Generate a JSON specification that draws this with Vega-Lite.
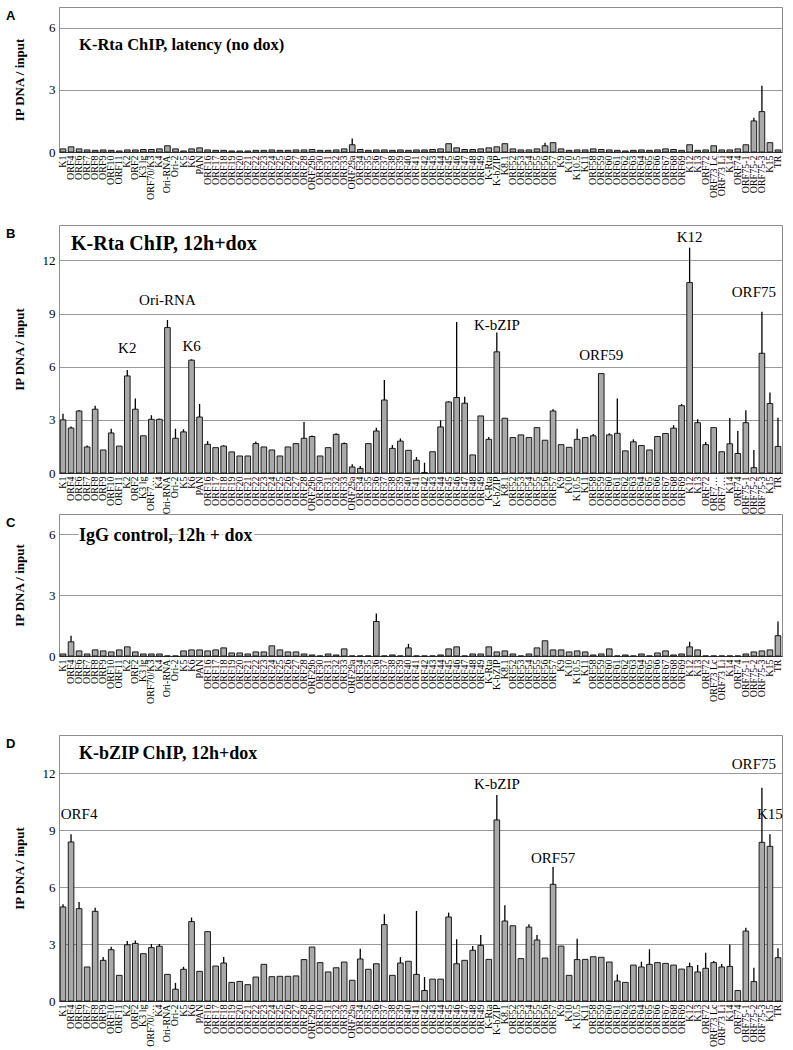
{
"$schema": "https://vega.github.io/schema/vega-lite/v6.json",
"padding": {"top": 6, "left": 5, "right": 0, "bottom": 0},
"bounds": "flush",
"spacing": 0,
"config": {
  "view": {"stroke": "#8c8c8c", "strokeWidth": 1},
  "font": "Liberation Serif",
  "axisX": {"title": null, "labelAngle": -90, "labelFont": "Liberation Serif", "labelFontSize": 10, "labelColor": "#000", "labelPadding": 3, "ticks": false, "grid": false, "domainColor": "#333", "domainWidth": 1, "labelOverlap": false, "labelBound": false},
  "axisY": {"titleFont": "Liberation Serif", "titleFontSize": 13, "titleFontWeight": "bold", "titleColor": "#000", "labelFont": "Liberation Serif", "labelFontSize": 13, "labelColor": "#000", "ticks": false, "domain": false, "gridColor": "#9a9a9a", "gridWidth": 1, "labelPadding": 4, "minExtent": 22, "maxExtent": 22, "titlePadding": 11},
  "title": {"anchor": "start", "frame": "group", "orient": "top", "baseline": "top", "offset": 0, "dx": -53, "dy": 20, "font": "Liberation Sans", "fontSize": 13, "fontWeight": "bold", "color": "#000"}
},
"datasets": {
"A": [{"g":"K1","v":0.15},{"g":"ORF4","v":0.25},{"g":"ORF6","v":0.15},{"g":"ORF7","v":0.1},{"g":"ORF8","v":0.08},{"g":"ORF9","v":0.1},{"g":"ORF10","v":0.08},{"g":"ORF11","v":0.05},{"g":"K2","v":0.1},{"g":"ORF2","v":0.1},{"g":"K3 lg","v":0.12},{"g":"ORF70/K3","v":0.12},{"g":"K4","v":0.15},{"g":"Ori-RNA","v":0.3},{"g":"Ori-2","v":0.15},{"g":"K5","v":0.05},{"g":"K6","v":0.15},{"g":"PAN","v":0.2},{"g":"ORF16","v":0.1},{"g":"ORF17","v":0.08},{"g":"ORF18","v":0.08},{"g":"ORF19","v":0.05},{"g":"ORF20","v":0.05},{"g":"ORF21","v":0.05},{"g":"ORF22","v":0.08},{"g":"ORF23","v":0.08},{"g":"ORF24","v":0.1},{"g":"ORF25","v":0.08},{"g":"ORF26","v":0.08},{"g":"ORF27","v":0.1},{"g":"ORF28","v":0.1},{"g":"ORF29b","v":0.12},{"g":"ORF30","v":0.08},{"g":"ORF31","v":0.08},{"g":"ORF32","v":0.1},{"g":"ORF33","v":0.15},{"g":"ORF29a","v":0.35,"hi":0.65},{"g":"ORF34","v":0.12},{"g":"ORF35","v":0.08},{"g":"ORF36","v":0.1},{"g":"ORF37","v":0.1},{"g":"ORF38","v":0.08},{"g":"ORF39","v":0.1},{"g":"ORF40","v":0.08},{"g":"ORF41","v":0.1},{"g":"ORF42","v":0.1},{"g":"ORF43","v":0.12},{"g":"ORF44","v":0.15},{"g":"ORF45","v":0.4},{"g":"ORF46","v":0.2},{"g":"ORF47","v":0.12},{"g":"ORF48","v":0.12},{"g":"ORF49","v":0.15},{"g":"K-Rta","v":0.2},{"g":"K-bZIP","v":0.25},{"g":"K8.1","v":0.4},{"g":"ORF52","v":0.15},{"g":"ORF53","v":0.1},{"g":"ORF54","v":0.1},{"g":"ORF55","v":0.15},{"g":"ORF56","v":0.3,"hi":0.45},{"g":"ORF57","v":0.45},{"g":"K9","v":0.15},{"g":"K10","v":0.08},{"g":"K10.5","v":0.1},{"g":"K11","v":0.1},{"g":"ORF58","v":0.15},{"g":"ORF59","v":0.12},{"g":"ORF60","v":0.1},{"g":"ORF61","v":0.08},{"g":"ORF62","v":0.05},{"g":"ORF63","v":0.08},{"g":"ORF64","v":0.1},{"g":"ORF65","v":0.08},{"g":"ORF66","v":0.1},{"g":"ORF67","v":0.15},{"g":"ORF68","v":0.12},{"g":"ORF69","v":0.08},{"g":"K12","v":0.35},{"g":"K13","v":0.08},{"g":"ORF72","v":0.1},{"g":"ORF73 Lc","v":0.3},{"g":"ORF73 Li","v":0.1},{"g":"K14","v":0.1},{"g":"ORF74","v":0.15},{"g":"ORF75-1","v":0.35},{"g":"ORF75-2","v":1.5,"hi":1.65},{"g":"ORF75-3","v":1.95,"hi":3.2},{"g":"K15","v":0.45},{"g":"TR","v":0.1}],
"B": [{"g":"K1","v":3.0,"hi":3.35},{"g":"ORF4","v":2.54,"hi":2.62},{"g":"ORF6","v":3.5,"hi":3.55},{"g":"ORF7","v":1.47,"hi":1.55},{"g":"ORF8","v":3.6,"hi":3.8},{"g":"ORF9","v":1.3},{"g":"ORF10","v":2.26,"hi":2.5},{"g":"ORF11","v":1.52},{"g":"K2","v":5.48,"hi":5.82},{"g":"ORF2","v":3.6,"hi":4.2},{"g":"K3 lg","v":2.1},{"g":"ORF70/K3","v":3.03,"hi":3.26},{"g":"K4","v":3.03,"hi":3.07},{"g":"Ori-RNA","v":8.21,"hi":8.64},{"g":"Ori-2","v":1.96,"hi":2.5},{"g":"K5","v":2.32,"hi":2.47},{"g":"K6","v":6.37,"hi":6.42},{"g":"PAN","v":3.16,"hi":3.9},{"g":"ORF16","v":1.62,"hi":1.8},{"g":"ORF17","v":1.43},{"g":"ORF18","v":1.52,"hi":1.56},{"g":"ORF19","v":1.19},{"g":"ORF20","v":0.96},{"g":"ORF21","v":0.96},{"g":"ORF22","v":1.66,"hi":1.78},{"g":"ORF23","v":1.47},{"g":"ORF24","v":1.3},{"g":"ORF25","v":0.96},{"g":"ORF26","v":1.47},{"g":"ORF27","v":1.66},{"g":"ORF28","v":1.96,"hi":2.88},{"g":"ORF29b","v":2.06,"hi":2.12},{"g":"ORF30","v":0.96},{"g":"ORF31","v":1.43},{"g":"ORF32","v":2.18,"hi":2.25},{"g":"ORF33","v":1.66,"hi":1.72},{"g":"ORF29a","v":0.34,"hi":0.49},{"g":"ORF34","v":0.26,"hi":0.4},{"g":"ORF35","v":1.66},{"g":"ORF36","v":2.37,"hi":2.55},{"g":"ORF37","v":4.12,"hi":5.25},{"g":"ORF38","v":1.39,"hi":1.58},{"g":"ORF39","v":1.8,"hi":1.95},{"g":"ORF40","v":1.28},{"g":"ORF41","v":0.72,"hi":0.9},{"g":"ORF42","v":0.03,"hi":0.58},{"g":"ORF43","v":1.2},{"g":"ORF44","v":2.6,"hi":2.97},{"g":"ORF45","v":4.01,"hi":4.05},{"g":"ORF46","v":4.26,"hi":8.53},{"g":"ORF47","v":3.94,"hi":4.3},{"g":"ORF48","v":1.02},{"g":"ORF49","v":3.22},{"g":"K-Rta","v":1.9,"hi":2.03},{"g":"K-bZIP","v":6.84,"hi":7.93},{"g":"K8.1","v":3.09},{"g":"ORF52","v":2.0},{"g":"ORF53","v":2.15},{"g":"ORF54","v":2.0},{"g":"ORF55","v":2.56},{"g":"ORF56","v":1.85},{"g":"ORF57","v":3.5,"hi":3.6},{"g":"K9","v":1.6},{"g":"K10","v":1.45},{"g":"K10.5","v":1.9,"hi":2.5},{"g":"K11","v":2.0},{"g":"ORF58","v":2.1,"hi":2.2},{"g":"ORF59","v":5.61},{"g":"ORF60","v":2.15,"hi":2.25},{"g":"ORF61","v":2.24,"hi":4.21},{"g":"ORF62","v":1.25},{"g":"ORF63","v":1.76,"hi":1.9},{"g":"ORF64","v":1.55},{"g":"ORF65","v":1.3},{"g":"ORF66","v":2.06},{"g":"ORF67","v":2.23},{"g":"ORF68","v":2.53,"hi":2.7},{"g":"ORF69","v":3.8,"hi":3.9},{"g":"K12","v":10.75,"hi":12.72},{"g":"K13","v":2.84,"hi":3.03},{"g":"ORF72","v":1.6,"hi":1.75},{"g":"ORF73 Lc","v":2.56},{"g":"ORF73 Li","v":1.2},{"g":"K14","v":1.65,"hi":3.1},{"g":"ORF74","v":1.1,"hi":2.37},{"g":"ORF75-1","v":2.84,"hi":3.54},{"g":"ORF75-2","v":0.3,"hi":1.3},{"g":"ORF75-3","v":6.76,"hi":9.1},{"g":"K15","v":3.92,"hi":4.54},{"g":"TR","v":1.5,"hi":3.12}],
"C": [{"g":"K1","v":0.1},{"g":"ORF4","v":0.7,"hi":1.0},{"g":"ORF6","v":0.25},{"g":"ORF7","v":0.1},{"g":"ORF8","v":0.3},{"g":"ORF9","v":0.25},{"g":"ORF10","v":0.2},{"g":"ORF11","v":0.3},{"g":"K2","v":0.45},{"g":"ORF2","v":0.2},{"g":"K3 lg","v":0.1},{"g":"ORF70/K3","v":0.1},{"g":"K4","v":0.1},{"g":"Ori-RNA","v":0},{"g":"Ori-2","v":0},{"g":"K5","v":0.25},{"g":"K6","v":0.3},{"g":"PAN","v":0.3},{"g":"ORF16","v":0.25},{"g":"ORF17","v":0.3},{"g":"ORF18","v":0.4},{"g":"ORF19","v":0.15},{"g":"ORF20","v":0.15},{"g":"ORF21","v":0.1},{"g":"ORF22","v":0.2},{"g":"ORF23","v":0.2},{"g":"ORF24","v":0.5},{"g":"ORF25","v":0.3},{"g":"ORF26","v":0.2},{"g":"ORF27","v":0.2},{"g":"ORF28","v":0.1},{"g":"ORF29b","v":0.05},{"g":"ORF30","v":0},{"g":"ORF31","v":0.1},{"g":"ORF32","v":0.05},{"g":"ORF33","v":0.35},{"g":"ORF29a","v":0},{"g":"ORF34","v":0},{"g":"ORF35","v":0},{"g":"ORF36","v":1.7,"hi":2.1},{"g":"ORF37","v":0},{"g":"ORF38","v":0.05},{"g":"ORF39","v":0},{"g":"ORF40","v":0.4,"hi":0.6},{"g":"ORF41","v":0},{"g":"ORF42","v":0},{"g":"ORF43","v":0},{"g":"ORF44","v":0.05},{"g":"ORF45","v":0.35},{"g":"ORF46","v":0.45},{"g":"ORF47","v":0},{"g":"ORF48","v":0.1},{"g":"ORF49","v":0.1},{"g":"K-Rta","v":0.45},{"g":"K-bZIP","v":0.2},{"g":"K8.1","v":0.25},{"g":"ORF52","v":0.1},{"g":"ORF53","v":0},{"g":"ORF54","v":0.1},{"g":"ORF55","v":0.4},{"g":"ORF56","v":0.75},{"g":"ORF57","v":0.3},{"g":"K9","v":0.3},{"g":"K10","v":0.2},{"g":"K10.5","v":0.25},{"g":"K11","v":0.2},{"g":"ORF58","v":0.05},{"g":"ORF59","v":0.1},{"g":"ORF60","v":0.35},{"g":"ORF61","v":0},{"g":"ORF62","v":0.05},{"g":"ORF63","v":0},{"g":"ORF64","v":0.1},{"g":"ORF65","v":0},{"g":"ORF66","v":0.15},{"g":"ORF67","v":0.25},{"g":"ORF68","v":0.05},{"g":"ORF69","v":0.1},{"g":"K12","v":0.45,"hi":0.7},{"g":"K13","v":0.3},{"g":"ORF72","v":0},{"g":"ORF73 Lc","v":0},{"g":"ORF73 Li","v":0},{"g":"K14","v":0},{"g":"ORF74","v":0},{"g":"ORF75-1","v":0.1},{"g":"ORF75-2","v":0.2},{"g":"ORF75-3","v":0.25},{"g":"K15","v":0.3},{"g":"TR","v":1.0,"hi":1.7}],
"D": [{"g":"K1","v":4.95,"hi":5.09},{"g":"ORF4","v":8.37,"hi":8.77},{"g":"ORF6","v":4.86,"hi":5.21},{"g":"ORF7","v":1.79},{"g":"ORF8","v":4.72,"hi":4.91},{"g":"ORF9","v":2.14,"hi":2.31},{"g":"ORF10","v":2.7,"hi":2.86},{"g":"ORF11","v":1.35},{"g":"K2","v":2.96,"hi":3.16},{"g":"ORF2","v":3.03,"hi":3.19},{"g":"K3 lg","v":2.49},{"g":"ORF70/K3","v":2.81,"hi":3.0},{"g":"K4","v":2.88,"hi":3.0},{"g":"Ori-RNA","v":1.4},{"g":"Ori-2","v":0.62,"hi":0.95},{"g":"K5","v":1.67,"hi":1.8},{"g":"K6","v":4.18,"hi":4.39},{"g":"PAN","v":1.56},{"g":"ORF16","v":3.65},{"g":"ORF17","v":1.84},{"g":"ORF18","v":2.0,"hi":2.31},{"g":"ORF19","v":0.98},{"g":"ORF20","v":1.03},{"g":"ORF21","v":0.86},{"g":"ORF22","v":1.26},{"g":"ORF23","v":1.93},{"g":"ORF24","v":1.28},{"g":"ORF25","v":1.3},{"g":"ORF26","v":1.3},{"g":"ORF27","v":1.32},{"g":"ORF28","v":2.18},{"g":"ORF29b","v":2.84},{"g":"ORF30","v":2.02},{"g":"ORF31","v":1.53},{"g":"ORF32","v":1.75},{"g":"ORF33","v":2.05},{"g":"ORF29a","v":1.09},{"g":"ORF34","v":2.21,"hi":2.75},{"g":"ORF35","v":1.67},{"g":"ORF36","v":1.96},{"g":"ORF37","v":4.02,"hi":4.56},{"g":"ORF38","v":1.35},{"g":"ORF39","v":2.0,"hi":2.31},{"g":"ORF40","v":2.09},{"g":"ORF41","v":1.4,"hi":4.74},{"g":"ORF42","v":0.55,"hi":1.26},{"g":"ORF43","v":1.15},{"g":"ORF44","v":1.15},{"g":"ORF45","v":4.42,"hi":4.65},{"g":"ORF46","v":1.96,"hi":3.25},{"g":"ORF47","v":2.14},{"g":"ORF48","v":2.67,"hi":2.89},{"g":"ORF49","v":2.93,"hi":3.47},{"g":"K-Rta","v":2.19},{"g":"K-bZIP","v":9.53,"hi":10.84},{"g":"K8.1","v":4.21,"hi":5.04},{"g":"ORF52","v":3.96},{"g":"ORF53","v":2.23},{"g":"ORF54","v":3.89,"hi":4.04},{"g":"ORF55","v":3.21,"hi":3.47},{"g":"ORF56","v":2.26},{"g":"ORF57","v":6.14,"hi":7.05},{"g":"K9","v":2.89},{"g":"K10","v":1.35},{"g":"K10.5","v":2.18,"hi":3.28},{"g":"K11","v":2.19},{"g":"ORF58","v":2.33},{"g":"ORF59","v":2.3},{"g":"ORF60","v":2.05},{"g":"ORF61","v":1.05,"hi":1.4},{"g":"ORF62","v":0.98},{"g":"ORF63","v":1.89},{"g":"ORF64","v":1.79,"hi":2.07},{"g":"ORF65","v":1.93,"hi":2.72},{"g":"ORF66","v":2.02},{"g":"ORF67","v":1.98},{"g":"ORF68","v":1.89},{"g":"ORF69","v":1.68},{"g":"K12","v":1.81,"hi":2.02},{"g":"K13","v":1.53,"hi":1.9},{"g":"ORF72","v":1.72,"hi":2.54},{"g":"ORF73 Lc","v":2.02,"hi":2.1},{"g":"ORF73 Li","v":1.79,"hi":1.95},{"g":"K14","v":1.82,"hi":2.98},{"g":"ORF74","v":0.55},{"g":"ORF75-1","v":3.68,"hi":3.86},{"g":"ORF75-2","v":1.02,"hi":1.75},{"g":"ORF75-3","v":8.35,"hi":11.23},{"g":"K15","v":8.14,"hi":8.77},{"g":"TR","v":2.28,"hi":2.77}],
"annB": [{"g":"K2","y":7.08,"t":"K2"},{"g":"Ori-RNA","y":9.77,"t":"Ori-RNA"},{"g":"K6","y":7.17,"t":"K6"},{"g":"K-bZIP","y":8.36,"t":"K-bZIP"},{"g":"ORF59","y":6.65,"t":"ORF59"},{"g":"K12","y":13.3,"t":"K12"},{"g":"ORF75-2","y":10.19,"t":"ORF75"}],
"annD": [{"g":"ORF6","y":9.84,"t":"ORF4"},{"g":"K-bZIP","y":11.4,"t":"K-bZIP"},{"g":"ORF57","y":7.54,"t":"ORF57"},{"g":"ORF75-2","y":12.47,"t":"ORF75"},{"g":"K15","y":9.84,"t":"K15"}]
},
"vconcat": [
{
  "width": 723, "height": 145,
  "title": {"text": "A"},
  "data": {"name": "A"},
  "encoding": {"x": {"field": "g", "type": "nominal", "sort": null, "scale": {"paddingInner": 0.3, "paddingOuter": 0.15}}},
  "layer": [
    {"mark": {"type": "bar", "fill": "#a9a9a9", "stroke": "#1a1a1a", "strokeWidth": 1},
     "encoding": {"y": {"field": "v", "type": "quantitative", "scale": {"domain": [0, 7], "nice": false}, "axis": {"title": "IP DNA / input", "values": [0, 3, 6]}}}},
    {"transform": [{"filter": "isValid(datum.hi)"}], "mark": {"type": "rule", "color": "#000", "strokeWidth": 1.3},
     "encoding": {"y": {"field": "v", "type": "quantitative"}, "y2": {"field": "hi"}}},
    {"data": {"values": [{"t": "K-Rta ChIP, latency (no dox)"}]}, "mark": {"type": "text", "align": "left", "baseline": "middle", "font": "Liberation Serif", "fontWeight": "bold", "fontSize": 16.5, "color": "#000"},
     "encoding": {"x": {"datum": "ORF6"}, "y": {"datum": 5.17}, "text": {"field": "t"}}}
  ]
},
{"width": 723, "height": 73, "view": {"stroke": null}, "data": {"values": [{}]}, "mark": {"type": "point", "opacity": 0}},
{
  "width": 723, "height": 248,
  "title": {"text": "B"},
  "data": {"name": "B"},
  "encoding": {"x": {"field": "g", "type": "nominal", "sort": null, "scale": {"paddingInner": 0.3, "paddingOuter": 0.15}, "axis": {"labelLimit": 38}}},
  "layer": [
    {"mark": {"type": "bar", "fill": "#a9a9a9", "stroke": "#1a1a1a", "strokeWidth": 1},
     "encoding": {"y": {"field": "v", "type": "quantitative", "scale": {"domain": [0, 14], "nice": false}, "axis": {"title": "IP DNA / input", "values": [0, 3, 6, 9, 12]}}}},
    {"transform": [{"filter": "isValid(datum.hi)"}], "mark": {"type": "rule", "color": "#000", "strokeWidth": 1.3},
     "encoding": {"y": {"field": "v", "type": "quantitative"}, "y2": {"field": "hi"}}},
    {"data": {"name": "annB"}, "mark": {"type": "text", "align": "center", "baseline": "middle", "font": "Liberation Serif", "fontSize": 15, "color": "#000"},
     "encoding": {"y": {"field": "y", "type": "quantitative"}, "text": {"field": "t"}}},
    {"data": {"values": [{"t": "K-Rta ChIP, 12h+dox"}]}, "mark": {"type": "text", "align": "left", "baseline": "middle", "font": "Liberation Serif", "fontWeight": "bold", "fontSize": 20, "color": "#000"},
     "encoding": {"x": {"datum": "ORF4"}, "y": {"datum": 12.94}, "text": {"field": "t"}}}
  ]
},
{"width": 723, "height": 41, "view": {"stroke": null}, "data": {"values": [{}]}, "mark": {"type": "point", "opacity": 0}},
{
  "width": 723, "height": 142,
  "title": {"text": "C"},
  "data": {"name": "C"},
  "encoding": {"x": {"field": "g", "type": "nominal", "sort": null, "scale": {"paddingInner": 0.3, "paddingOuter": 0.15}}},
  "layer": [
    {"mark": {"type": "bar", "fill": "#a9a9a9", "stroke": "#1a1a1a", "strokeWidth": 1},
     "encoding": {"y": {"field": "v", "type": "quantitative", "scale": {"domain": [0, 7], "nice": false}, "axis": {"title": "IP DNA / input", "values": [0, 3, 6]}}}},
    {"transform": [{"filter": "isValid(datum.hi)"}], "mark": {"type": "rule", "color": "#000", "strokeWidth": 1.3},
     "encoding": {"y": {"field": "v", "type": "quantitative"}, "y2": {"field": "hi"}}},
    {"data": {"values": [{"t": "IgG control, 12h + dox"}]}, "mark": {"type": "text", "align": "left", "baseline": "middle", "font": "Liberation Serif", "fontWeight": "bold", "fontSize": 18, "color": "#fff", "stroke": "#fff", "strokeWidth": 5},
     "encoding": {"x": {"datum": "ORF6"}, "y": {"datum": 5.94}, "text": {"field": "t"}}},
    {"data": {"values": [{"t": "IgG control, 12h + dox"}]}, "mark": {"type": "text", "align": "left", "baseline": "middle", "font": "Liberation Serif", "fontWeight": "bold", "fontSize": 18, "color": "#000"},
     "encoding": {"x": {"datum": "ORF6"}, "y": {"datum": 5.94}, "text": {"field": "t"}}}
  ]
},
{"width": 723, "height": 79, "view": {"stroke": null}, "data": {"values": [{}]}, "mark": {"type": "point", "opacity": 0}},
{
  "width": 723, "height": 266,
  "title": {"text": "D"},
  "data": {"name": "D"},
  "encoding": {"x": {"field": "g", "type": "nominal", "sort": null, "scale": {"paddingInner": 0.3, "paddingOuter": 0.15}, "axis": {"labelLimit": 44}}},
  "layer": [
    {"mark": {"type": "bar", "fill": "#a9a9a9", "stroke": "#1a1a1a", "strokeWidth": 1},
     "encoding": {"y": {"field": "v", "type": "quantitative", "scale": {"domain": [0, 14], "nice": false}, "axis": {"title": "IP DNA / input", "values": [0, 3, 6, 9, 12]}}}},
    {"transform": [{"filter": "isValid(datum.hi)"}], "mark": {"type": "rule", "color": "#000", "strokeWidth": 1.3},
     "encoding": {"y": {"field": "v", "type": "quantitative"}, "y2": {"field": "hi"}}},
    {"data": {"name": "annD"}, "mark": {"type": "text", "align": "center", "baseline": "middle", "font": "Liberation Serif", "fontSize": 15, "color": "#000"},
     "encoding": {"y": {"field": "y", "type": "quantitative"}, "text": {"field": "t"}}},
    {"data": {"values": [{"t": "K-bZIP ChIP, 12h+dox"}]}, "mark": {"type": "text", "align": "left", "baseline": "middle", "font": "Liberation Serif", "fontWeight": "bold", "fontSize": 18, "color": "#000"},
     "encoding": {"x": {"datum": "ORF6"}, "y": {"datum": 13.0}, "text": {"field": "t"}}}
  ]
}
]
}
